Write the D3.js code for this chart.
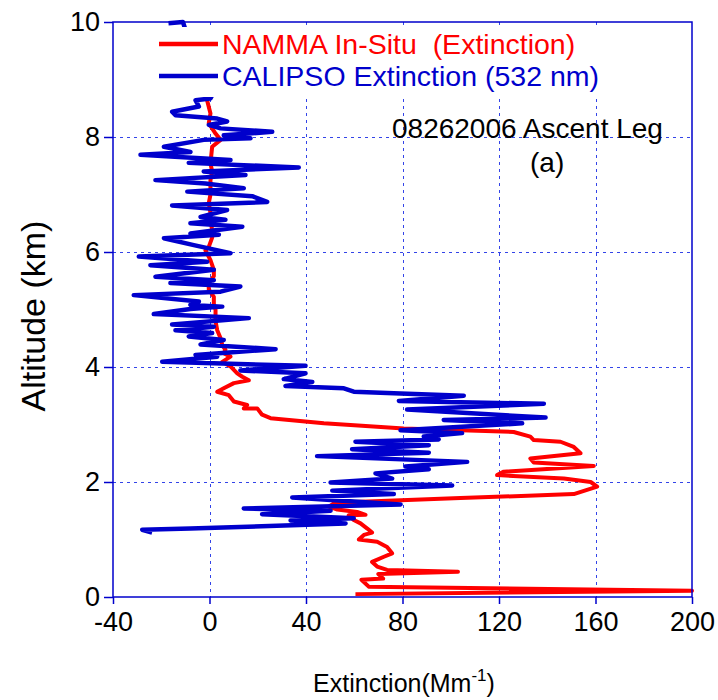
<!DOCTYPE html>
<html>
<head>
<meta charset="utf-8">
<script src="https://cdn.jsdelivr.net/npm/d3@7"></script>
<style>
  body { margin: 0; background: #fff; }
  text { font-family: Arial, "Liberation Sans", sans-serif; }
</style>
</head>
<body>
<svg width="718" height="700"></svg>
<script>

// NAMMA in-situ extinction, bottom to top
var nammaExt = [60.5, 200, 66, 63, 72, 70, 103, 73.6, 69.5, 67.4, 72.3, 75.7, 73.6, 69.5, 61.9, 64, 67.4, 65.4,
	62.6, 59.8, 57.7, 64.7, 61.2, 53, 49.5, 52, 104, 151, 160.7, 158, 146.9, 119.2, 122, 159.3, 134.4, 133,
	153.8, 151, 145.5, 134.4, 133, 126.1, 80.5, 47.4, 25.3, 21.8, 19.8, 14.2, 15.6, 10.1, 8, 3.2, 5.9, 10.1,
	16.3, 13.6, 11.5, 8.7, 5.3, 8.7, 5.9, 6.6, 5.3, 4.6, 3.2, 2.5, 2.5, 1.8, 1.8, -0.3, -0.3, 1.8, 1.8, 0.4,
	-1.7, -0.3, 1.1, 1.1, 0.4, 0.4, -0.3, 0.4, 0.4, 1.1, 0.4, 1.1, 4.6, 2.5, -0.3, 0.4, -1];
var nammaAlt = [0.05, 0.11, 0.18, 0.30, 0.32, 0.40, 0.44, 0.47, 0.53, 0.61, 0.70, 0.76, 0.87, 0.96, 1.00, 1.08, 1.12, 1.19,
	1.28, 1.34, 1.42, 1.43, 1.48, 1.52, 1.57, 1.64, 1.72, 1.79, 1.92, 2.00, 2.06, 2.12, 2.18, 2.28, 2.34, 2.41,
	2.50, 2.61, 2.70, 2.73, 2.79, 2.87, 2.93, 3.02, 3.11, 3.17, 3.28, 3.28, 3.34, 3.40, 3.51, 3.57, 3.63, 3.72,
	3.77, 3.83, 3.89, 4.01, 4.09, 4.18, 4.24, 4.30, 4.38, 4.50, 4.64, 4.80, 4.99, 5.10, 5.22, 5.35, 5.46, 5.58, 5.69, 5.86,
	6.03, 6.09, 6.25, 6.38, 6.55, 6.68, 6.85, 7.00, 7.25, 7.40, 7.54, 7.83, 7.95, 8.06, 8.24, 8.41, 8.64];

// CALIPSO extinction (532 nm), top to bottom
var calipsoExt = [-17, -11, -8, -3, 2, 0.4, -5.8, -4.4, -15.5, -14.1, 3.2, 7.3, -0.3, 4.6, 26, 5.9, 17, -2.4, -18.9,
	-7.9, -28.6, 8.7, -8.6, 37, -2.4, 14.9, -22.4, -1.7, 14.2, -9.2, 17.7, 23.9, -15.5, 7.3, -3.7, 6.6, -7.9, 13.6,
	-7.9, 3.9, -18.9, -6.5, 8.7, -29.3, -1, -24.5, 1.8, -22.4, 1.8, -16.2, 12.8, 4.6, -31.4, -4.4, -7.9, 5.3,
	-7.9, -23.1, 16.3, -15.5, 1.8, -14.1, 1.1, -8.6, 5.9, -3.7, 27.4, -5.8, 3.2, -19.6, 39.8, 12.8, 39.8, 30.8,
	42.6, 31.5, 55.7, 59.8, 79.2, 105.4, 78.5, 138.6, 81.9, 139.3, 97.1, 129.6, 79.2, 104.7, 88.8, 95, 60.5,
	90.9, 59.1, 90.9, 44.6, 106.8, 81.2, 90.9, 68.8, 75.7, 50.2, 100.6, 50.9, 76.4, 34.3, 79.2, 14.2, 50.2,
	21.8, 59.8, 33.6, 56.4, -7.9, -27.9, -23.8];
var calipsoAlt = [9.98, 10.0, 9.6, 9.2, 8.8, 8.67, 8.64, 8.53, 8.44, 8.38, 8.32, 8.27, 8.21, 8.15, 8.09, 8.03, 7.98, 7.95, 7.83,
	7.74, 7.69, 7.60, 7.55, 7.47, 7.40, 7.34, 7.25, 7.19, 7.11, 7.05, 6.97, 6.87, 6.81, 6.73, 6.61, 6.56, 6.50, 6.44,
	6.32, 6.30, 6.24, 6.12, 5.98, 5.92, 5.83, 5.77, 5.69, 5.57, 5.51, 5.46, 5.40, 5.31, 5.25, 5.14, 5.08, 5.05,
	5.01, 4.92, 4.85, 4.74, 4.70, 4.64, 4.59, 4.53, 4.47, 4.39, 4.31, 4.21, 4.18, 4.09, 4.02, 3.94, 3.89, 3.79,
	3.74, 3.67, 3.63, 3.57, 3.54, 3.50, 3.41, 3.36, 3.26, 3.12, 3.08, 3.02, 2.90, 2.85, 2.79, 2.74, 2.70,
	2.64, 2.57, 2.51, 2.45, 2.35, 2.27, 2.22, 2.15, 2.06, 1.99, 1.94, 1.85, 1.79, 1.73, 1.61, 1.54, 1.50,
	1.44, 1.37, 1.33, 1.28, 1.19, 1.17, 1.12];

var xTicks = [-40, 0, 40, 80, 120, 160, 200];
var yTicks = [0, 2, 4, 6, 8, 10];
var legendNames = ['NAMMA In-Situ  (Extinction)', 'CALIPSO Extinction (532 nm)'];
var legendColors = ['#ff0000', '#0000cc'];

var plotLeft = 113, plotTop = 22, plotRight = 692, plotBottom = 597;
var axisBlue = '#0000cc';
var gridBlue = '#3344e8';

var svg = d3.select('svg');

var x = d3.scaleLinear()
	.domain([-40, 200])
	.range([plotLeft, plotRight]);

var y = d3.scaleLinear()
	.domain([0, 10])
	.range([plotBottom, plotTop]);

// grid
svg.append('g')
	.selectAll('line')
	.data(xTicks.slice(1, -1))
	.enter().append('line')
	.attr('x1', function(d){ return Math.round(x(d)) + 0.5; })
	.attr('x2', function(d){ return Math.round(x(d)) + 0.5; })
	.attr('y1', plotTop)
	.attr('y2', plotBottom)
	.attr('stroke', gridBlue)
	.attr('stroke-width', 1)
	.attr('stroke-dasharray', '3,4');

svg.append('g')
	.selectAll('line')
	.data(yTicks.slice(1, -1))
	.enter().append('line')
	.attr('x1', plotLeft)
	.attr('x2', plotRight)
	.attr('y1', function(d){ return Math.round(y(d)) + 0.5; })
	.attr('y2', function(d){ return Math.round(y(d)) + 0.5; })
	.attr('stroke', gridBlue)
	.attr('stroke-width', 1)
	.attr('stroke-dasharray', '3,4');

// profiles
var line = d3.line()
	.x(function(d){ return x(d[0]); })
	.y(function(d){ return y(d[1]); });

var plot = svg.append('g');

plot.append('path')
	.attr('d', line(d3.zip(nammaExt, nammaAlt)))
	.attr('fill', 'none')
	.attr('stroke', legendColors[0])
	.attr('stroke-width', 4)
	.attr('stroke-linejoin', 'round');

plot.append('path')
	.attr('d', line(d3.zip(calipsoExt, calipsoAlt)))
	.attr('fill', 'none')
	.attr('stroke', legendColors[1])
	.attr('stroke-width', 4.5)
	.attr('stroke-linejoin', 'round');

// legend
var legend = svg.append('g');

legend.append('rect')
	.attr('x', 150)
	.attr('y', 27)
	.attr('width', 455)
	.attr('height', 70)
	.attr('fill', '#fff');

legendNames.forEach(function(name, i){
	var ly = 44 + i * 32;
	legend.append('line')
		.attr('x1', 159).attr('x2', 218)
		.attr('y1', ly).attr('y2', ly)
		.attr('stroke', legendColors[i])
		.attr('stroke-width', 4.5);
	legend.append('text')
		.attr('x', 222)
		.attr('y', ly + 10)
		.attr('font-size', 28.5)
		.attr('fill', legendColors[i])
		.style('white-space', 'pre')
		.text(name);
});

// frame
svg.append('rect')
	.attr('x', plotLeft)
	.attr('y', plotTop)
	.attr('width', plotRight - plotLeft)
	.attr('height', plotBottom - plotTop)
	.attr('fill', 'none')
	.attr('stroke', axisBlue)
	.attr('stroke-width', 1.5);

var plain = function(d){ return String(d); };

var xAxis = svg.append('g')
	.attr('transform', 'translate(0,' + plotBottom + ')')
	.call(d3.axisBottom(x).tickValues(xTicks).tickFormat(plain).tickSize(7).tickPadding(8));

var yAxis = svg.append('g')
	.attr('transform', 'translate(' + plotLeft + ',0)')
	.call(d3.axisLeft(y).tickValues(yTicks).tickFormat(plain).tickSize(9).tickPadding(4));

[xAxis, yAxis].forEach(function(a){
	a.select('.domain').remove();
	a.selectAll('line').attr('stroke', axisBlue).attr('stroke-width', 1.5);
	a.selectAll('text')
		.attr('font-size', 27)
		.attr('fill', '#000')
		.style('font-family', 'Arial, "Liberation Sans", sans-serif');
});

// annotations
svg.append('text')
	.attr('x', 392)
	.attr('y', 138)
	.attr('font-size', 28)
	.text('08262006 Ascent Leg');

svg.append('text')
	.attr('x', 530)
	.attr('y', 172)
	.attr('font-size', 28)
	.text('(a)');

svg.append('text')
	.attr('transform', 'translate(45,316) rotate(-90)')
	.attr('text-anchor', 'middle')
	.attr('font-size', 34)
	.text('Altitude (km)');

var xt = svg.append('text')
	.attr('x', 404)
	.attr('y', 692)
	.attr('text-anchor', 'middle')
	.attr('font-size', 25);
xt.append('tspan').text('Extinction(Mm');
xt.append('tspan').attr('dy', -11).attr('font-size', 17).text('-1');
xt.append('tspan').attr('dy', 11).text(')');

</script>
</body>
</html>
